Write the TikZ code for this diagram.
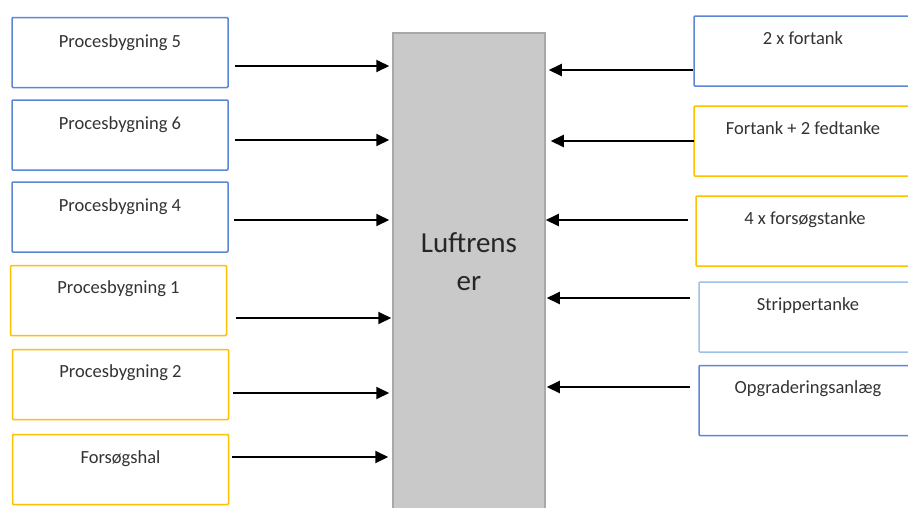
\documentclass[tikz,border=0pt]{standalone}
\usepackage{fontspec}
\setmainfont{Carlito}
\usetikzlibrary{arrows.meta,calc}
\definecolor{bblue}{HTML}{5B87D6}
\definecolor{lblue}{HTML}{9CC2E8}
\definecolor{byel}{HTML}{FFC000}
\definecolor{cgray}{HTML}{C9C9C9}
\definecolor{cedge}{HTML}{A8A8A8}
\definecolor{txt}{HTML}{333333}
\tikzset{
  box/.style={draw, line width=1.5pt, rounded corners=1pt, fill=white, minimum height=70pt, inner sep=0pt},
  lbox/.style={box, minimum width=216pt},
  rbox/.style={box, minimum width=218pt},
  lbl/.style={anchor=base, font=\fontsize{18.5}{21}\selectfont, text=txt, inner sep=0pt},
  arr/.style={line width=2pt, -{Triangle[length=13pt,width=12pt]}},
}
\begin{document}
\begin{tikzpicture}[x=1pt,y=-1pt]
\useasboundingbox (0,0) rectangle (908,507);
\clip (0,0) rectangle (908,507);
\fill[white] (0,0) rectangle (908,507);
% central unit
\node[draw=cedge, line width=1.5pt, fill=cgray, minimum width=152pt, minimum height=480pt, inner sep=0pt] (lr) at (469,273) {};
\node[align=center, font=\fontsize{29}{38}\selectfont, text=black!85, inner sep=0pt] (lt) at (469,262) {Luftrens\\er};
% left boxes
\node[lbox, draw=bblue] (l5) at (120,52.5) {};
\node[lbox, draw=bblue] (l6) at (120,135) {};
\node[lbox, draw=bblue] (l4) at (120,217) {};
\node[lbox, draw=byel] (l1) at (118.5,300.5) {};
\node[lbox, draw=byel] (l2) at (120.5,384.5) {};
\node[lbox, draw=byel] (lf) at (120.5,469.5) {};
\node[lbl] (t5) at ([yshift=-31pt]l5.north) {Procesbygning 5};
\node[lbl] (t6) at ([yshift=-30pt]l6.north) {Procesbygning 6};
\node[lbl] (t4) at ([yshift=-30pt]l4.north) {Procesbygning 4};
\node[lbl] (t1) at ([yshift=-29pt]l1.north) {Procesbygning 1};
\node[lbl] (t2) at ([yshift=-29pt]l2.north) {Procesbygning 2};
\node[lbl] (tf) at ([yshift=-30pt]lf.north) {Forsøgshal};
% right boxes
\node[rbox, draw=bblue] (r1) at (803,51) {};
\node[rbox, draw=byel] (r2) at (803,141) {};
\node[rbox, draw=byel] (r3) at (805,231) {};
\node[rbox, draw=lblue] (r4) at (808,317) {};
\node[rbox, draw=bblue] (r5) at (808,400.5) {};
\node[lbl] (s1) at ([yshift=-29pt]r1.north) {2 x fortank};
\node[lbl] (s2) at ([yshift=-29pt]r2.north) {Fortank + 2 fedtanke};
\node[lbl] (s3) at ([yshift=-29pt]r3.north) {4 x forsøgstanke};
\node[lbl] (s4) at ([yshift=-29pt]r4.north) {Strippertanke};
\node[lbl] (s5) at ([yshift=-29pt]r5.north) {Opgraderingsanlæg};
% left arrows
\draw[arr] ([xshift=6pt,yshift=-13.5pt]l5.east) -- ([xshift=-3pt,yshift=-13.5pt]l5.east -| lr.west);
\draw[arr] ([xshift=6pt,yshift=-5pt]l6.east) -- ([xshift=-3pt,yshift=-5pt]l6.east -| lr.west);
\draw[arr] ([xshift=5pt,yshift=-3pt]l4.east) -- ([xshift=-3pt,yshift=-3pt]l4.east -| lr.west);
\draw[arr] ([xshift=9pt,yshift=-17.5pt]l1.east) -- ([xshift=-1pt,yshift=-17.5pt]l1.east -| lr.west);
\draw[arr] ([xshift=4pt,yshift=-8.5pt]l2.east) -- ([xshift=-3pt,yshift=-8.5pt]l2.east -| lr.west);
\draw[arr] ([xshift=3pt,yshift=12.5pt]lf.east) -- ([xshift=-4pt,yshift=12.5pt]lf.east -| lr.west);
% right arrows
\draw[arr] ([yshift=-19pt]r1.west) -- ([xshift=3pt,yshift=-19pt]r1.west -| lr.east);
\draw[arr] ([xshift=1pt]r2.west) -- ([xshift=5pt]r2.west -| lr.east);
\draw[arr] ([xshift=-7pt,yshift=11pt]r3.west) -- ([xshift=0pt,yshift=11pt]r3.west -| lr.east);
\draw[arr] ([xshift=-8pt,yshift=19pt]r4.west) -- ([xshift=1pt,yshift=19pt]r4.west -| lr.east);
\draw[arr] ([xshift=-8pt,yshift=13.5pt]r5.west) -- ([xshift=1pt,yshift=13.5pt]r5.west -| lr.east);
\end{tikzpicture}
\end{document}
